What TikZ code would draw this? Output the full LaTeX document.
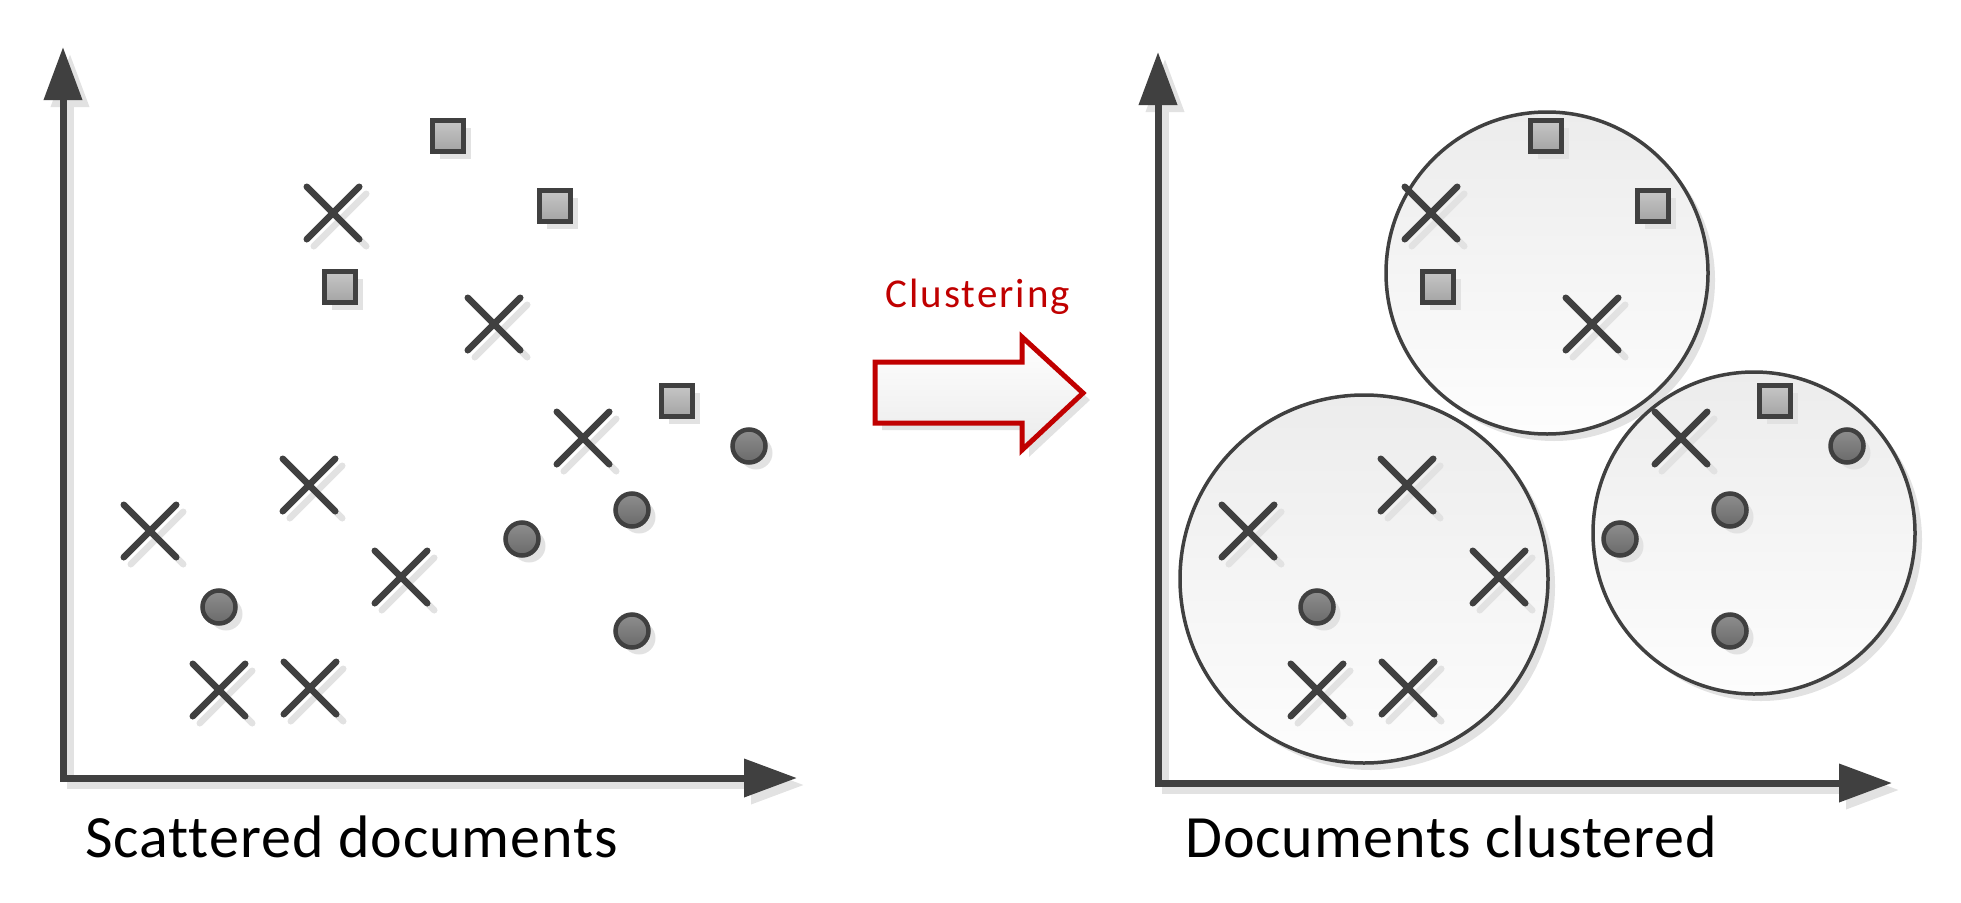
\documentclass[tikz,border=0pt]{standalone}
\usepackage{fontspec}
\setmainfont{Carlito}[Ligatures={NoCommon}]
\usetikzlibrary{arrows.meta,shapes.misc,shadows}
\definecolor{ink}{HTML}{404040}
\definecolor{shad}{HTML}{E2E2E2}
\definecolor{redc}{HTML}{C00000}
\definecolor{sqtop}{HTML}{C6C6C6}
\definecolor{sqbot}{HTML}{A4A4A4}
\definecolor{ditop}{HTML}{8E8E8E}
\definecolor{dibot}{HTML}{6A6A6A}
\definecolor{cltop}{HTML}{ECECEC}
\definecolor{clbot}{HTML}{FDFDFD}
\begin{document}
\begin{tikzpicture}[x=1pt,y=-1pt,
  axis/.style={draw=ink,line width=7pt,line join=miter,
    {Triangle[length=53pt,width=37pt]}-{Triangle[length=53pt,width=37pt]}},
  axshadow/.style={draw=shad,line width=7pt,line join=miter,
    {Triangle[length=53pt,width=37pt]}-{Triangle[length=53pt,width=37pt]},
    transform canvas={xshift=7pt,yshift=-7pt}},
  myshadow/.style={drop shadow={shadow xshift=7pt,shadow yshift=-7pt,fill=shad,opacity=1}},
  sq/.style={rectangle,minimum size=31pt,inner sep=0pt,draw=ink,line width=4.5pt,
    top color=sqtop,bottom color=sqbot,myshadow},
  dot/.style={circle,minimum size=33pt,inner sep=0pt,draw=ink,line width=4.5pt,
    top color=ditop,bottom color=dibot,myshadow},
  xm/.style={cross out,minimum size=46pt,inner sep=0pt,draw=ink,line width=6.5pt,line cap=round},
  xmshadow/.style={cross out,minimum size=46pt,inner sep=0pt,draw=shad,line width=6.5pt,line cap=round},
  cluster/.style={circle,inner sep=0pt,draw=ink,line width=3.5pt,
    top color=cltop,bottom color=clbot,myshadow},
  label/.style={anchor=base west,inner sep=0pt,text=black,
    font=\fontsize{60}{70}\selectfont\addfontfeature{LetterSpace=1.6}},
]
\useasboundingbox (0,0) rectangle (1961,902);

% axes
\coordinate (ly) at (63,47);
\coordinate (lo) at (63,778);
\coordinate (lx) at (797,778);
\coordinate (ry) at (1158,52);
\coordinate (ro) at (1158,783);
\coordinate (rx) at (1892,783);
\draw[axshadow] (ly) -- (lo) -- (lx);
\draw[axshadow] (ry) -- (ro) -- (rx);
\draw[axis] (ly) -- (lo) -- (lx);
\draw[axis] (ry) -- (ro) -- (rx);

% clusters
\node[cluster,minimum size=322pt] (clA) at (1547,273) {};
\node[cluster,minimum size=368pt] (clB) at (1364,579) {};
\node[cluster,minimum size=322pt] (clC) at (1754,533) {};

% markers
\foreach \n/\x/\y in {1/333/213,2/494/324,3/583/438,4/309/485,5/150/531,6/401/577,7/219/690,8/310/688}{
  \node[xmshadow] (Lxs\n) at (\x+7,\y+7) {};
  \node[xmshadow] (Rxs\n) at (\x+1105,\y+7) {};
}
\foreach \n/\x/\y in {1/333/213,2/494/324,3/583/438,4/309/485,5/150/531,6/401/577,7/219/690,8/310/688}{
  \node[xm] (Lx\n) at (\x,\y) {};
  \node[xm] (Rx\n) at (\x+1098,\y) {};
}
\foreach \n/\x/\y in {1/448/136,2/555/206,3/340/287,4/677/401}{
  \node[sq] (Ls\n) at (\x,\y) {};
  \node[sq] (Rs\n) at (\x+1098,\y) {};
}
\foreach \n/\x/\y in {1/749/446,2/632/510,3/522/539,4/219/607,5/632/631}{
  \node[dot] (Ld\n) at (\x,\y) {};
  \node[dot] (Rd\n) at (\x+1098,\y) {};
}

% block arrow
\fill[shad] (882,369) -- (1029,369) -- (1029,344) -- (1090,400) -- (1029,457) -- (1029,430) -- (882,430) -- cycle;
\draw[redc,line width=5pt,line join=miter,top color=white,bottom color=black!8]
  (875,362) -- (1022,362) -- (1022,337) -- (1083,393) -- (1022,450) -- (1022,423) -- (875,423) -- cycle;

% labels
\node[label] (t1) at (85,857) {Scattered documents};
\node[label] (t2) at (1185,857) {Documents clustered};
\node[anchor=base west,inner sep=0pt,text=redc,
  font=\fontsize{41}{48}\selectfont\addfontfeature{LetterSpace=5}] (t3) at (885,307) {Clustering};
\end{tikzpicture}
\end{document}
